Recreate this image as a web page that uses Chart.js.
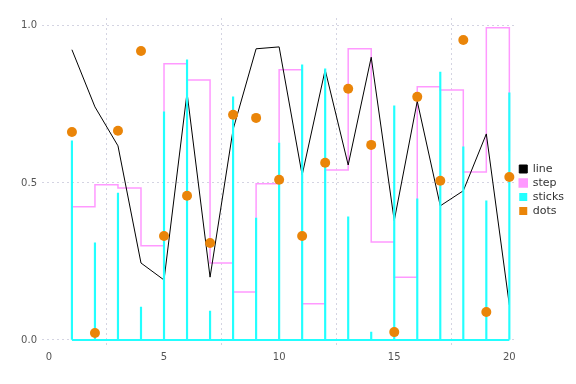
<!DOCTYPE html>
<html>
<head>
<meta charset="utf-8">
<script src="https://cdn.jsdelivr.net/npm/chart.js@4/dist/chart.umd.min.js"></script>
<style>
  html, body { margin: 0; padding: 0; background: #fff; }
  #wrap { width: 576px; height: 384px; }
</style>
</head>
<body>
<div id="wrap"><canvas id="chart" width="576" height="384"></canvas></div>
<script>
// Data
const xs = [1, 2, 3, 4, 5, 6, 7, 8, 9, 10, 11, 12, 13, 14, 15, 16, 17, 18, 19, 20];
const lineVals = [0.924, 0.742, 0.618, 0.245, 0.191, 0.787, 0.200, 0.670, 0.927, 0.933,
                  0.525, 0.860, 0.557, 0.900, 0.380, 0.760, 0.427, 0.475, 0.656, 0.111];
const stepVals = [0.424, 0.494, 0.484, 0.300, 0.879, 0.828, 0.245, 0.153, 0.497, 0.860,
                  0.115, 0.541, 0.927, 0.312, 0.200, 0.806, 0.796, 0.535, 0.994, 0.600];
const stickVals = [0.634, 0.309, 0.468, 0.105, 0.726, 0.892, 0.092, 0.774, 0.388, 0.627,
                   0.876, 0.863, 0.392, 0.025, 0.745, 0.449, 0.853, 0.615, 0.443, 0.787];
const dotVals = [0.662, 0.022, 0.666, 0.920, 0.331, 0.459, 0.309, 0.717, 0.707, 0.510,
                 0.331, 0.564, 0.800, 0.621, 0.025, 0.774, 0.507, 0.955, 0.089, 0.519];
const xTicks = [0, 5, 10, 15, 20];
const yTicks = [0, 0.5, 1.0];

const pts = vals => xs.map((x, i) => ({ x: x, y: vals[i] }));

const gridColor = '#d4d4e2';
const tickColor = '#555555';

new Chart(document.getElementById('chart'), {
  type: 'scatter',
  data: {
    datasets: [
      {
        type: 'line',
        label: 'line',
        data: pts(lineVals),
        borderColor: '#000000',
        backgroundColor: '#000000',
        borderWidth: 1,
        pointRadius: 0,
        order: 3
      },
      {
        type: 'line',
        label: 'step',
        data: pts(stepVals),
        stepped: true,
        borderColor: '#ff99ff',
        backgroundColor: '#ff99ff',
        borderWidth: 1.5,
        pointRadius: 0,
        order: 4
      },
      {
        type: 'bar',
        label: 'sticks',
        data: pts(stickVals),
        backgroundColor: '#22ffff',
        borderColor: '#22ffff',
        borderWidth: 0,
        barThickness: 1.5,
        order: 2
      },
      {
        type: 'line',
        label: 'baseline',
        data: xs.map(x => ({ x: x, y: 0 })),
        borderColor: '#22ffff',
        borderWidth: 2,
        pointRadius: 0,
        order: 2
      },
      {
        type: 'scatter',
        label: 'dots',
        data: pts(dotVals),
        backgroundColor: '#ea8509',
        borderColor: '#ea8509',
        borderWidth: 0,
        pointRadius: 5,
        order: 1
      }
    ]
  },
  options: {
    responsive: false,
    animation: false,
    layout: { padding: { top: 18, left: 0, right: 2, bottom: 22 } },
    scales: {
      x: {
        type: 'linear',
        offset: false,
        min: -0.3,
        max: 20.3,
        afterBuildTicks: s => { s.ticks = xTicks.map(v => ({ value: v })); },
        afterFit: s => { s.height = 17; },
        grid: { color: gridColor, drawTicks: false },
        border: { display: false, dash: [2, 3] },
        ticks: {
          color: tickColor,
          padding: 6,
          font: { family: 'DejaVu Sans', size: 10 },
          callback: v => String(v)
        }
      },
      y: {
        min: -0.016,
        max: 1.025,
        afterBuildTicks: s => { s.ticks = yTicks.map(v => ({ value: v })); },
        afterFit: s => { s.width = 42; },
        grid: { color: gridColor, drawTicks: false },
        border: { display: false, dash: [2, 3] },
        ticks: {
          color: tickColor,
          padding: 5,
          font: { family: 'DejaVu Sans', size: 10 },
          callback: v => v.toFixed(1)
        }
      }
    },
    plugins: {
      tooltip: { enabled: false },
      legend: {
        position: 'right',
        align: 'center',
        labels: {
          boxWidth: 8,
          boxHeight: 8,
          padding: 3,
          color: '#333333',
          font: { family: 'DejaVu Sans', size: 11 },
          filter: item => item.text !== 'baseline',
          sort: (a, b) => a.datasetIndex - b.datasetIndex
        }
      }
    }
  }
});
</script>
</body>
</html>
